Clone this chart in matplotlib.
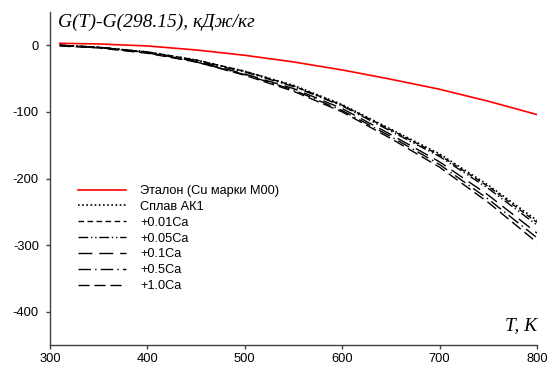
import matplotlib.pyplot as plt

# temperature grid, K
T = [310, 350, 400, 450, 500, 550, 600, 650, 700, 750, 800]

# G(T)-G(298.15), kJ/kg
etalon = [3, 2, -1, -7, -15, -25, -37, -51, -66, -84, -104]
ak1 = [0, -3, -10, -22, -39, -60, -89, -126, -163, -210, -263]
ca001 = [0, -3, -10, -22, -39, -61, -90, -127, -165, -212, -266]
ca005 = [0, -3, -10, -23, -40, -62, -91, -129, -167, -215, -270]
ca01 = [0, -3, -11, -24, -43, -65, -95, -134, -175, -225, -282]
ca05 = [0, -3, -11, -25, -44, -67, -98, -137, -179, -231, -289]
ca10 = [-1, -4, -12, -25, -45, -69, -100, -140, -183, -236, -296]

labels = ["Эталон (Cu марки M00)", "Сплав АК1", "+0.01Ca", "+0.05Ca",
          "+0.1Ca", "+0.5Ca", "+1.0Ca"]

plt.rcParams['font.family'] = ['Liberation Sans', 'DejaVu Sans']
plt.rcParams['axes.unicode_minus'] = False

fig = plt.figure(figsize=(5.48, 3.67), dpi=100)
ax = fig.add_axes([50/548, 1 - 345/367, (537 - 50)/548, (345 - 12)/367])

ax.plot(T, etalon, color="red", lw=1.2, label=labels[0])
ax.plot(T, ak1, color="black", lw=1.2, ls=(0, (1, 1.5)), label=labels[1])
ax.plot(T, ca001, color="black", lw=1.0, ls=(0, (4, 2.5)), label=labels[2])
ax.plot(T, ca005, color="black", lw=1.0, ls=(0, (7, 2, 1, 2, 1, 2)), label=labels[3])
ax.plot(T, ca01, color="black", lw=1.0, ls=(0, (10, 5)), label=labels[4])
ax.plot(T, ca05, color="black", lw=1.0, ls=(0, (9, 3, 1, 3)), label=labels[5])
ax.plot(T, ca10, color="black", lw=1.0, ls=(0, (8, 3.5)), label=labels[6])

ax.set_xlim(300, 800)
ax.set_ylim(-450, 50)
ax.set_xticks([300, 400, 500, 600, 700, 800])
ax.set_yticks([0, -100, -200, -300, -400])

for s in ['top', 'right']:
    ax.spines[s].set_visible(False)
for s in ['left', 'bottom']:
    ax.spines[s].set_color("#404040")
    ax.spines[s].set_linewidth(1.0)
ax.tick_params(direction='out', length=3, width=1, color="#404040",
               labelsize=9.3, pad=5)
ax.tick_params(axis='x', pad=2.5)

serif = dict(family='Liberation Serif', style='italic', fontsize=14)
ax.text(58/548, 1 - 22/367, "G(T)-G(298.15), кДж/кг", transform=fig.transFigure,
        ha='left', va='center', **serif)
ax.text(537/548, 1 - 326/367, "T, K", transform=fig.transFigure,
        ha='right', va='center', **serif)

ax.legend(loc='upper left', bbox_to_anchor=(78/548, 1 - 185/367),
          bbox_transform=fig.transFigure, frameon=False, fontsize=9.2,
          borderpad=0, borderaxespad=0, handlelength=3.75,
          handletextpad=1.1, labelspacing=0.3)

plt.savefig("out.png", dpi=100)
